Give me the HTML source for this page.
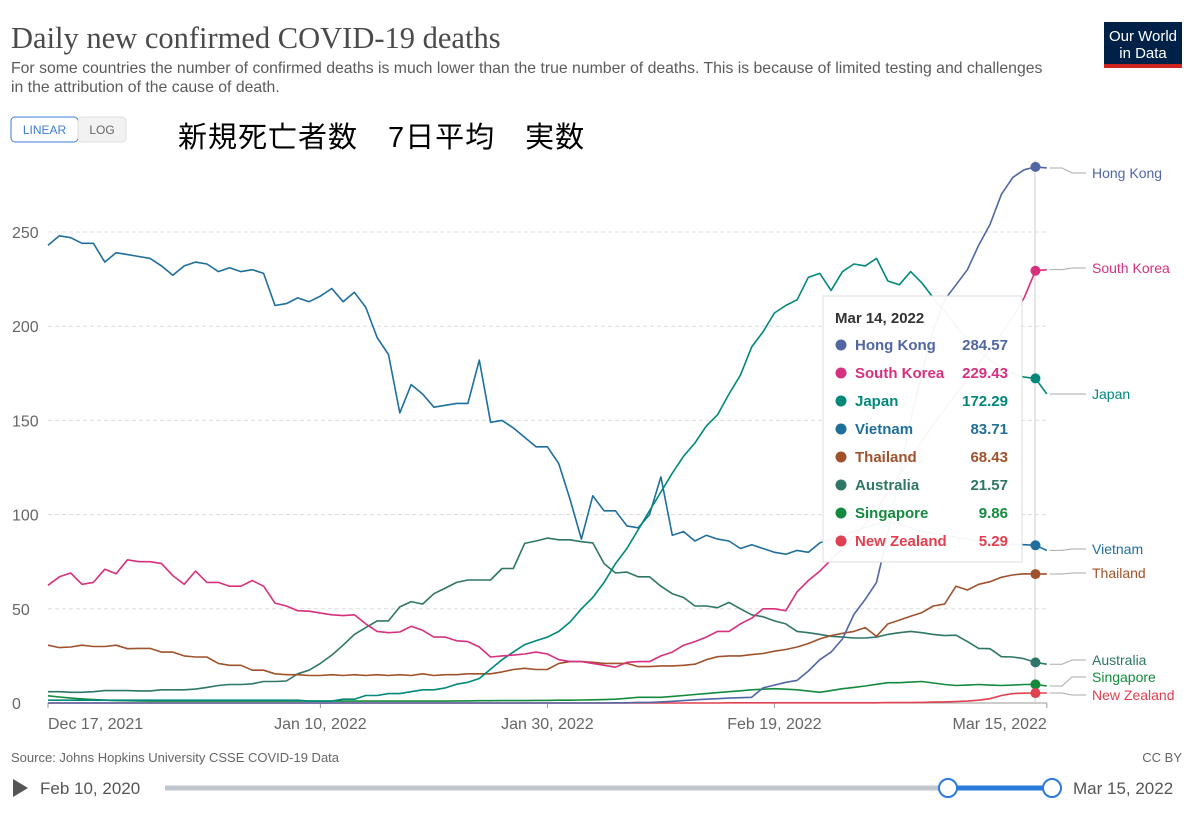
<!DOCTYPE html>
<html><head><meta charset="utf-8">
<style>
body{margin:0;background:#fff;width:1200px;height:814px;overflow:hidden;font-family:"Liberation Sans","Noto Sans CJK JP",sans-serif}
svg text{font-family:"Liberation Sans","Noto Sans CJK JP",sans-serif}
svg text.serif{font-family:"Liberation Serif",serif}
</style></head>
<body>
<svg id="chart" width="1200" height="814" viewBox="0 0 1200 814" xmlns="http://www.w3.org/2000/svg">
<text class="serif" x="11" y="48" font-size="30.5" fill="#4a4a4a">Daily new confirmed COVID-19 deaths</text>
<text x="11" y="73" font-size="15.8" fill="#5b5b5b">For some countries the number of confirmed deaths is much lower than the true number of deaths. This is because of limited testing and challenges</text>
<text x="11" y="92" font-size="15.8" fill="#5b5b5b">in the attribution of the cause of death.</text>
<g>
<rect x="1104" y="22" width="78" height="46" fill="#002147"/>
<rect x="1104" y="64" width="78" height="4" fill="#ce261e"/>
<text x="1143" y="41" font-size="15" fill="#fff" text-anchor="middle">Our World</text>
<text x="1143" y="58" font-size="15" fill="#fff" text-anchor="middle">in Data</text>
</g>
<g>
<rect x="11" y="117" width="67" height="25" rx="4" fill="#fff" stroke="#3b7dd8"/>
<text x="44.5" y="134" font-size="12" fill="#3b7dd8" text-anchor="middle">LINEAR</text>
</g>
<g>
<rect x="78" y="117" width="48" height="25" rx="4" fill="#f2f2f2" stroke="#ddd"/>
<text x="102" y="134" font-size="12" fill="#666" text-anchor="middle">LOG</text>
</g>
<text x="178" y="147" font-size="29" letter-spacing="1" fill="#000">新規死亡者数　7日平均　実数</text>
<g id="grid"></g>
<g id="xaxis"></g>
<g id="lines"></g>
<g id="labels"></g>
<line x1="1035" y1="160" x2="1035" y2="703" stroke="#ccc" stroke-width="1"/>
<g id="markers"></g>
<g>
<rect x="823" y="296" width="199" height="266" fill="#fff" fill-opacity="0.95" stroke="#ddd"/>
<text x="835" y="323" font-size="15" font-weight="bold" fill="#333">Mar 14, 2022</text>
<g id="tiprows"></g>
</g>
<text x="11" y="762" font-size="13" fill="#666">Source: Johns Hopkins University CSSE COVID-19 Data</text>
<text x="1182" y="762" font-size="13" fill="#666" text-anchor="end">CC BY</text>
<path d="M13 779 L28 788 L13 797 Z" fill="#555"/>
<text x="40" y="794" font-size="17" fill="#555">Feb 10, 2020</text>
<line x1="165" y1="788" x2="1050" y2="788" stroke="#c2c6cf" stroke-width="5"/>
<line x1="948" y1="788" x2="1052" y2="788" stroke="#2a7ad8" stroke-width="5"/>
<circle cx="948" cy="788" r="9" fill="#fff" stroke="#2a7ad8" stroke-width="2"/>
<circle cx="1052" cy="788" r="9" fill="#fff" stroke="#2a7ad8" stroke-width="2"/>
<text x="1073" y="794" font-size="17" fill="#555">Mar 15, 2022</text>
</svg>
<script>
const yTicks=[0,50,100,150,200,250];
const xTickIdx=[0,24,44,64,88];
const xTickLabels=["Dec 17, 2021","Jan 10, 2022","Jan 30, 2022","Feb 19, 2022","Mar 15, 2022"];
const countries=["Hong Kong","South Korea","Japan","Vietnam","Thailand","Australia","Singapore","New Zealand"];
const tipValues=["284.57","229.43","172.29","83.71","68.43","21.57","9.86","5.29"];
const hongKong=[0,0,0,0,0,0,0,0,0,0,0,0,0,0,0,0,0,0,0,0,0,0,0,0,0,0,0,0,0,0,0,0,0,0,0,0,0,0,0,0,0,0,0,0,0,0,0,0,0,0,0.1,0.1,0.3,0.3,0.6,0.9,1.3,1.7,2,2.3,2.6,2.8,3,8,9.5,11,12,17,23,27,34,47,55,64,90,120,150,175,198,214,222,230,243,254,270,279,283,284.57,284];
const southKorea=[62.5,67,69,63,64,71,68.6,76,75,75,74,67.6,63,70,64,64,62,62,65,62,53,51.5,49,48.7,47.7,46.8,46.4,46.8,42,38,37.3,37.7,40.7,38.6,35,35,33,32.6,29.7,24.4,25,25.4,26,27,26,23,22,22,21,20,19,21.6,22,22,25,27,30.7,32.6,35,38,38,42,45,50,50,49,59,65,70,76,82,88,95,103,112,121,130,139,148,156,164,172,180,188,196,205,215,229.43,230];
const japan=[1.5,1.5,1.5,1.5,1.5,1.5,1.5,1.5,1.5,1.5,1.5,1.5,1.5,1.5,1.5,1.5,1.5,1.5,1.5,1.5,1.5,1.5,1.5,1,1,1,2,2,4,4,5,5,6,7,7,8,10,11,13,18,23,27,31,33,35,38,43,50,56,64,74,82,92,102,112,122,131,138,147,153,164,174,189,197,207,211,214,226,228,219,229,233,232,236,224,222,229,223,215,208,200,193,187,182,178,175,173,172.29,164];
const vietnam=[243,248,247,244,244,234,239,238,237,236,232,227,232,234,233,229,231,229,230,228,211,212,215,213,216,220,213,218,210,194,185,154,169,164,157,158,159,159,182,149,150,146,141,136,136,127,108,87,110,102,102,94,93,100,120,89,91,86,89,87,86,82,84,82,80,79,81,80,85,87,89,91,93,95,96,95,93,91,90,89,88,87,86,85,85,84,84,83.71,81];
const thailand=[30.7,29.4,29.7,30.7,30,30,30.7,28.8,29,29,27,27,25,24.4,24.4,21,20,20,17.4,17.4,15.5,15,15,14.6,14.6,15,14.6,15,14.6,15,14.6,15,14.6,15.5,14.6,15,15,15.5,15.5,15.5,16.5,17.8,18.4,17.8,17.8,21,22,22,21.6,21,21,21,19.3,19.3,19.7,19.7,20,20.6,23,24.6,25,25,25.7,26.3,27.5,28.4,29.7,31.6,34,35.8,37,38,40,35.4,42,44,46,48,51.5,52.5,62,60,63,64.4,66.7,68,68.6,68.43,68.5];
const australia=[6,6,5.7,5.7,6,6.6,6.6,6.6,6.4,6.4,7,7,7,7.4,8.3,9.3,9.8,9.8,10.2,11.4,11.4,11.7,15.5,17.4,21,25.4,30.7,36.4,40,43.6,43.6,51,53.8,52.5,58,61,64,65.3,65.3,65.3,71.4,71.4,84.7,86,87.5,86.6,86.6,85.6,85,74,69,69.5,67,67,62,58,56,51.5,51.5,50.6,53.4,50,46.8,45.8,43.6,42,38,37.3,36.4,35.4,35,34.5,34.5,35,36.4,37.3,38,37.3,36.4,35.8,36,32.6,29,28.8,24.6,24.4,23.5,21.57,20.6];
const singapore=[3.8,3.2,2.6,2.2,1.8,1.5,1.3,1.2,1.1,1,1,1,1,1,1,1,1,1,1,1,1,1,1,1,1,1,1,1,1,1,1,1,1,1,1,1,1.1,1.1,1.2,1.2,1.3,1.3,1.3,1.4,1.4,1.5,1.5,1.6,1.7,1.8,2,2.5,3,3,3,3.5,4,4.5,5,5.5,6,6.5,7,7.3,7.6,7.3,7,6.3,5.7,6.6,7.6,8.3,9,9.9,10.8,10.8,11.1,11.4,10.6,9.8,9.3,9.5,9.8,9.5,9.3,9.5,9.8,9.86,9];
const newZealand=[0,0,0,0,0,0,0,0,0,0,0,0,0,0,0,0,0,0,0,0,0,0,0,0,0,0,0,0,0,0,0,0,0,0,0,0,0,0,0,0,0,0,0,0,0,0,0,0,0,0,0,0,0,0,0,0,0,0,0,0,0.1,0.1,0.1,0.1,0.1,0.1,0.1,0.1,0.1,0.1,0.1,0.1,0.1,0.1,0.2,0.2,0.2,0.3,0.5,0.6,0.8,1,1.5,2.3,4,5,5.2,5.29,5.3];
const seriesData=[hongKong,southKorea,japan,vietnam,thailand,australia,singapore,newZealand];
const colors=["#5167a3","#d6307f","#00897b","#1f6f9c","#a0522d","#2e7766","#138a3d","#e0404f"];
const labelYs=[173,268,394,549,573,660,677,695];

const NS="http://www.w3.org/2000/svg";
const X0=48,DX=11.35,Y0=703,PY=1.884;
function xs(i){return X0+DX*i;}
function ys(v){return Y0-v*PY;}
function mk(tag,attrs,parent){const e=document.createElementNS(NS,tag);for(const k in attrs)e.setAttribute(k,attrs[k]);parent.appendChild(e);return e;}
const grid=document.getElementById('grid');
yTicks.forEach(t=>{
  if(t>0){const gl=mk('line',{x1:X0,x2:1047,y1:ys(t),y2:ys(t),stroke:'#ddd','stroke-dasharray':'4,3'},grid);
  
  }
  const tl=mk('text',{x:12,y:ys(t)+6,'font-size':16,fill:'#666'},grid);
  tl.textContent=t;
  
  
});
const xa=document.getElementById('xaxis');
const base=mk('line',{x1:X0,x2:1047,y1:Y0,y2:Y0,stroke:'#999'},xa);


xTickIdx.forEach((ix,k)=>{
  const x=xs(ix);
  const tk=mk('line',{x1:x,x2:x,y1:Y0,y2:Y0+5,stroke:'#999'},xa);
  
  
  const anchor=k===0?'start':(k===xTickIdx.length-1?'end':'middle');
  const tl=mk('text',{x:x,y:Y0+26,'font-size':16,fill:'#666','text-anchor':anchor},xa);
  tl.textContent=xTickLabels[k];
  
  
});
const lines=document.getElementById('lines'),labels=document.getElementById('labels'),markers=document.getElementById('markers'),tip=document.getElementById('tiprows');
for(let s=seriesData.length-1;s>=0;s--){
  const d=seriesData[s];
  const pts=d.map((v,i)=>xs(i).toFixed(1)+','+ys(v).toFixed(1)).join(' ');
  const pl=mk('polyline',{points:pts,fill:'none',stroke:colors[s],'stroke-width':1.6,'stroke-linejoin':'round'},lines);
  
  
}
for(let s=0;s<seriesData.length;s++){
  const d=seriesData[s];
  const ye=ys(d[d.length-1]),ly=labelYs[s];
  const cn=mk('polyline',{points:`${xs(88)+3},${ye} 1062,${ye} 1072,${ly} 1086,${ly}`,fill:'none',stroke:'#aaa','stroke-width':1},labels);
  
  
  const lt=mk('text',{x:1092,y:ly+5,'font-size':14,fill:colors[s]},labels);
  lt.textContent=countries[s];
  
  
  const dot=mk('circle',{cx:xs(87),cy:ys(d[87]),r:5,fill:colors[s]},markers);
  
  
  const ry=345+28*s;
  const td=mk('circle',{cx:841,cy:ry,r:5.5,fill:colors[s]},tip);
  
  
  const tn=mk('text',{x:855,y:ry+5,'font-size':15,'font-weight':'bold',fill:colors[s]},tip);
  tn.textContent=countries[s];
  
  
  const tv=mk('text',{x:1008,y:ry+5,'font-size':15,'font-weight':'bold',fill:colors[s],'text-anchor':'end'},tip);
  tv.textContent=tipValues[s];
  
  
}
</script>
</body></html>
